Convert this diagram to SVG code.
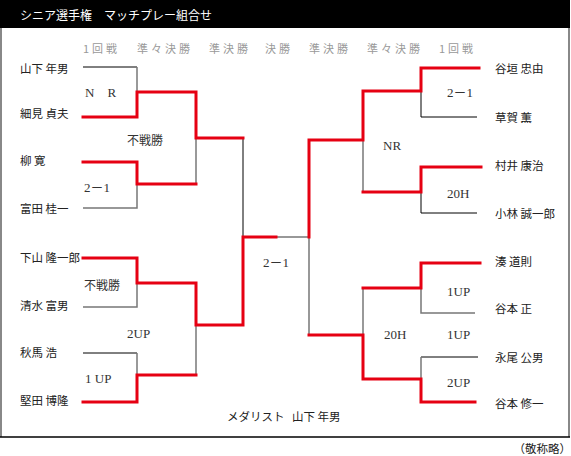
<svg xmlns="http://www.w3.org/2000/svg" width="571" height="456" viewBox="0 0 571 456">
<style>
.ttl{font-family:"Noto Sans CJK JP","Noto Sans",sans-serif;font-size:12px;fill:#fff}
.hd{font-family:"Noto Sans CJK JP",sans-serif;font-size:11px;fill:#999;letter-spacing:3px}
.nm{font-family:"Noto Sans CJK JP",sans-serif;font-size:11.5px;fill:#222}
.sc{font-family:"Liberation Serif","Noto Sans CJK JP",serif;font-size:13px;fill:#333}
.jp{font-family:"Noto Sans CJK JP",sans-serif;font-size:12px;fill:#333}
.r{fill:none;stroke:#e60012;stroke-width:3;stroke-linecap:square}
.k{fill:none;stroke:#000;stroke-width:1}
.g{fill:none;stroke:#777;stroke-width:1.5}
</style>
<rect x="0" y="0" width="571" height="456" fill="#fff"/>
<rect x="0" y="0" width="570" height="28" fill="#000"/>
<text class="ttl" x="20" y="20">シニア選手権　マッチプレー組合せ</text>
<rect x="0" y="28" width="2" height="409" fill="#888"/>
<rect x="568" y="28" width="2" height="409" fill="#888"/>
<line x1="0" y1="437" x2="570" y2="437" stroke="#000" stroke-width="1.5"/>
<g id="header">
<text class="hd" x="83" y="53">1回戦</text>
<text class="hd" x="137" y="53">準々決勝</text>
<text class="hd" x="209" y="53">準決勝</text>
<text class="hd" x="265" y="53">決勝</text>
<text class="hd" x="309" y="53">準決勝</text>
<text class="hd" x="367" y="53">準々決勝</text>
<text class="hd" x="439" y="53">1回戦</text>
</g>
<g id="connectors">
<path class="k" d="M83 67H137"/>
<path class="g" d="M137 67V92"/>
<path class="g" d="M83 208H137V184"/>
<path class="g" d="M196 138V184"/>
<path class="k" d="M243 138V237"/>
<path class="g" d="M83 307H137V283"/>
<path class="k" d="M83 353H137"/>
<path class="g" d="M137 353V375"/>
<path class="g" d="M196 325V375"/>
<path class="g" d="M276 237H309V335"/>
<path class="k" d="M421 91V117H477"/>
<path class="g" d="M363 140V192"/>
<path class="k" d="M421 192V213H477"/>
<path class="g" d="M421 288V313H475"/>
<path class="g" d="M363 288V335"/>
<path class="k" d="M478 357H421"/>
<path class="g" d="M421 357V379"/>
<path class="r" d="M83 117H137V92H196V138H243"/>
<path class="r" d="M83 162H137V184H196"/>
<path class="r" d="M83 258H137V283H196V325H243V237H276"/>
<path class="r" d="M83 402H137V375H196"/>
<path class="r" d="M309 237V140H363V91H421V68H479"/>
<path class="r" d="M363 192H421V167H481"/>
<path class="r" d="M480 263H421V288H363"/>
<path class="r" d="M309 335H363V379H421V402H475"/>
</g>
<g id="n-yamashita"><text class="nm" x="20" y="73">山下 年男</text></g>
<g id="n-hosomi"><text class="nm" x="20" y="118">細見 貞夫</text></g>
<g id="n-yanagi"><text class="nm" x="20" y="165">柳 寛</text></g>
<g id="n-tomita"><text class="nm" x="20" y="213">富田 桂一</text></g>
<g id="n-shimoyama"><text class="nm" x="20" y="262">下山 隆一郎</text></g>
<g id="n-shimizu"><text class="nm" x="20" y="310">清水 富男</text></g>
<g id="n-akima"><text class="nm" x="20" y="357">秋馬 浩</text></g>
<g id="n-katada"><text class="nm" x="20" y="405">堅田 博隆</text></g>
<g id="n-tanigaki"><text class="nm" x="495" y="73">谷垣 忠由</text></g>
<g id="n-kusaka"><text class="nm" x="495" y="122">草賀 薫</text></g>
<g id="n-murai"><text class="nm" x="495" y="170">村井 康治</text></g>
<g id="n-kobayashi"><text class="nm" x="495" y="218">小林 誠一郎</text></g>
<g id="n-minato"><text class="nm" x="495" y="266">湊 道則</text></g>
<g id="n-tanimoto1"><text class="nm" x="495" y="313">谷本 正</text></g>
<g id="n-nagao"><text class="nm" x="495" y="362">永尾 公男</text></g>
<g id="n-tanimoto2"><text class="nm" x="495" y="408">谷本 修一</text></g>
<g id="scores">
<text class="sc" x="85" y="97">N　R</text>
<text class="jp" x="127" y="145">不戦勝</text>
<text class="sc" x="84" y="192">2－1</text>
<text class="jp" x="84" y="290">不戦勝</text>
<text class="sc" x="127" y="338">2UP</text>
<text class="sc" x="85" y="383">1 UP</text>
<text class="sc" x="263" y="267">2－1</text>
<text class="sc" x="447" y="97">2－1</text>
<text class="sc" x="383" y="150">NR</text>
<text class="sc" x="447" y="198">20H</text>
<text class="sc" x="447" y="296">1UP</text>
<text class="sc" x="384" y="339">20H</text>
<text class="sc" x="447" y="339">1UP</text>
<text class="sc" x="447" y="387">2UP</text>
</g>
<text class="nm" x="227" y="421">メダリスト</text>
<text class="nm" x="292" y="421">山下 年男</text>
<text class="nm" x="571" y="453" text-anchor="end">（敬称略）</text>
</svg>
